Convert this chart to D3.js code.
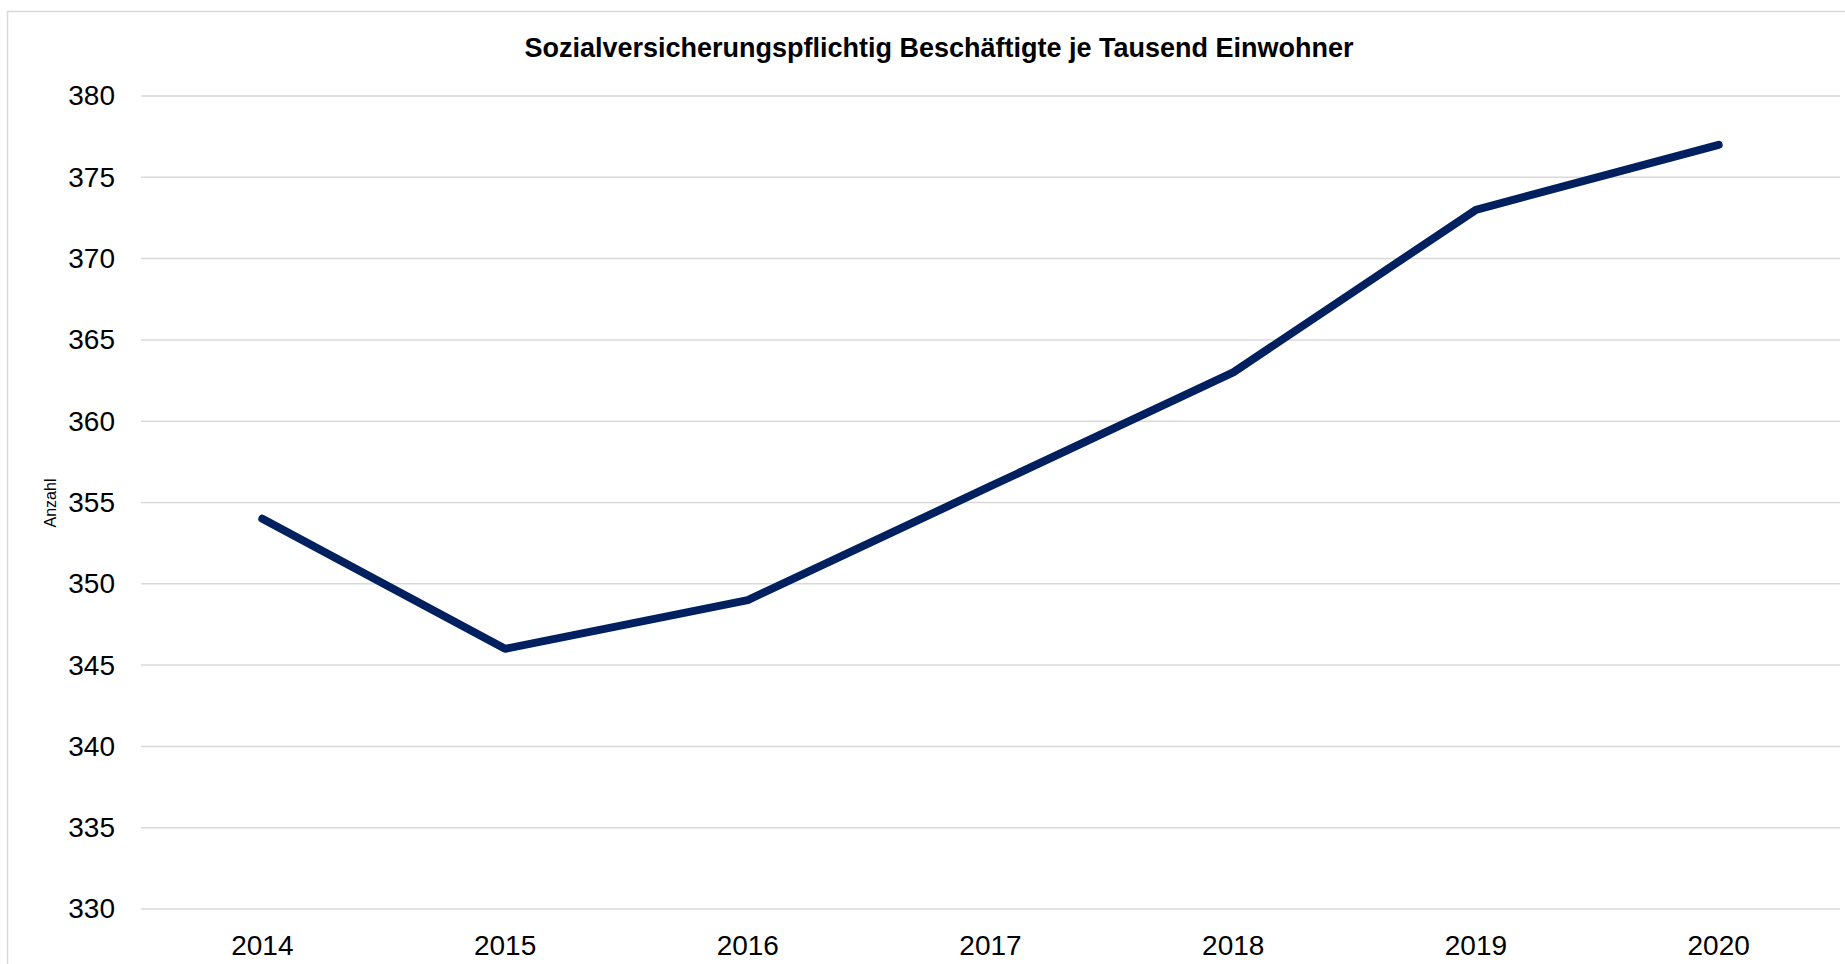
<!DOCTYPE html>
<html>
<head>
<meta charset="utf-8">
<script src="https://cdn.jsdelivr.net/npm/d3@7"></script>
<style>
  body { margin: 0; background: #fff; }
  svg { display: block; font-family: "Liberation Sans", Arial, sans-serif; }
</style>
</head>
<body>
<svg id="canvas" width="1845" height="964"></svg>
<script>
let years = ["2014", "2015", "2016", "2017", "2018", "2019", "2020"]
let values = [354, 346, 349, 356, 363, 373, 377]
let yTicks = [330, 335, 340, 345, 350, 355, 360, 365, 370, 375, 380]

let title = "Sozialversicherungspflichtig Beschäftigte je Tausend Einwohner"
let yTitle = "Anzahl"

let canvas = d3.select("#canvas")

let plotLeft = 141, plotRight = 1840, plotTop = 96, plotBottom = 909

// frame
canvas.append("rect")
    .attr("x", 7.5).attr("y", 11.5)
    .attr("width", 1900).attr("height", 1000)
    .attr("fill", "none")
    .attr("stroke", "#d9d9d9")
    .attr("stroke-width", 1.5)

let x = d3.scaleBand().domain(years).range([plotLeft, plotRight])
let y = d3.scaleLinear().domain([330, 380]).range([plotBottom, plotTop])

// gridlines
canvas.append("g")
    .selectAll("line")
    .data(yTicks)
    .enter()
    .append("line")
    .attr("x1", plotLeft).attr("x2", plotRight)
    .attr("y1", d => y(d)).attr("y2", d => y(d))
    .attr("stroke", "#d9d9d9")
    .attr("stroke-width", 1.5)

// y axis labels
let yAxis = d3.axisLeft(y).tickValues(yTicks).tickSize(0).tickPadding(0)
let gy = canvas.append("g")
    .attr("transform", "translate(115,0)")
    .call(yAxis)
gy.select(".domain").remove()
gy.selectAll("text")
    .attr("font-size", 28)
    .attr("font-family", "Liberation Sans, Arial, sans-serif")
    .attr("fill", "#000")

// x axis labels
let xAxis = d3.axisBottom(x).tickSize(0).tickPadding(0)
let gx = canvas.append("g")
    .attr("transform", "translate(0," + plotBottom + ")")
    .call(xAxis)
gx.select(".domain").remove()
gx.selectAll("text")
    .attr("y", 0)
    .attr("dy", 0)
    .attr("transform", "translate(0,46)")
    .attr("font-size", 28)
    .attr("font-family", "Liberation Sans, Arial, sans-serif")
    .attr("fill", "#000")

// line
let line = d3.line()
    .x((d, i) => x(years[i]) + x.bandwidth() / 2)
    .y(d => y(d))

canvas.append("path")
    .datum(values)
    .attr("d", line)
    .attr("fill", "none")
    .attr("stroke", "#002060")
    .attr("stroke-width", 8)
    .attr("stroke-linecap", "round")
    .attr("stroke-linejoin", "round")

// title
canvas.append("text")
    .attr("x", 939).attr("y", 57)
    .attr("text-anchor", "middle")
    .attr("font-size", 27)
    .attr("font-weight", "bold")
    .text(title)

// y title
canvas.append("text")
    .attr("transform", "translate(56,503) rotate(-90)")
    .attr("text-anchor", "middle")
    .attr("font-size", 16)
    .text(yTitle)
</script>
</body>
</html>
